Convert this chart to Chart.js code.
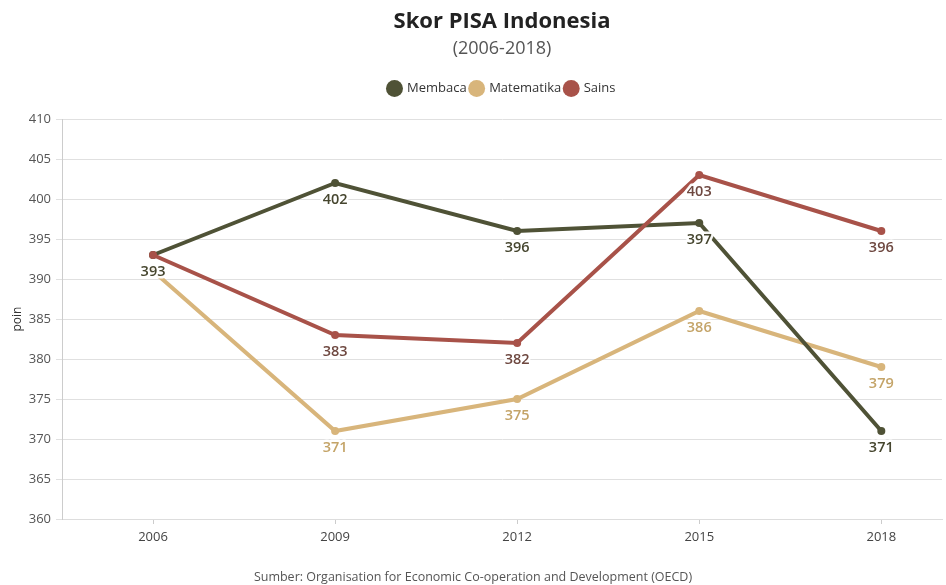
<!DOCTYPE html>
<html>
<head>
<meta charset="utf-8">
<script src="https://cdn.jsdelivr.net/npm/chart.js@4/dist/chart.umd.min.js"></script>
<style>
html,body{margin:0;padding:0;background:#fff;overflow:hidden;}
#wrap{width:946px;height:585px;position:relative;}
</style>
</head>
<body>
<div id="wrap"><canvas id="c" width="946" height="585"></canvas></div>
<script>
const years = [2006, 2009, 2012, 2015, 2018];
const membaca = [393, 402, 396, 397, 371];
const matematika = [391, 371, 375, 386, 379];
const sains = [393, 383, 382, 403, 396];
const yTicks = [360, 365, 370, 375, 380, 385, 390, 395, 400, 405, 410];
const titleText = 'Skor PISA Indonesia';
const subtitleText = '(2006-2018)';
const sourceText = 'Sumber: Organisation for Economic Co-operation and Development (OECD)';
const yTitle = 'poin';

const FONT = "'Open Sans', 'Noto Sans', sans-serif";
Chart.defaults.font.family = FONT;

const toPts = arr => arr.map((v, i) => ({x: years[i], y: v}));

const legendGap = {
  id: 'legendGap',
  beforeInit(chart) {
    const lg = chart.legend;
    if (!lg) return;
    const orig = lg.fit;
    lg.fit = function () { orig.call(this); this.height += 14; };
  }
};

const labelPlugin = {
  id: 'valLabels',
  afterDatasetsDraw(chart) {
    const ctx = chart.ctx;
    const boxes = [];
    ctx.save();
    ctx.font = "600 14.5px " + FONT;
    ctx.textAlign = 'center';
    ctx.textBaseline = 'middle';
    chart.data.datasets.forEach((ds, di) => {
      const meta = chart.getDatasetMeta(di);
      meta.data.forEach((pt, i) => {
        const txt = String(ds.data[i].y);
        const x = pt.x, y = pt.y + 17;
        const w = ctx.measureText(txt).width, h = 18;
        const b = {l: x - w/2, r: x + w/2, t: y - h/2, b: y + h/2};
        if (boxes.some(o => !(b.r < o.l || b.l > o.r || b.b < o.t || b.t > o.b))) return;
        boxes.push(b);
        ctx.lineJoin = 'round';
        ctx.strokeStyle = 'rgba(255,255,255,0.95)';
        ctx.lineWidth = 5;
        ctx.strokeText(txt, x, y);
        ctx.fillStyle = ds.labelColor;
        ctx.fillText(txt, x, y);
      });
    });
    ctx.restore();
  }
};

const sourcePlugin = {
  id: 'sourceText',
  afterDraw(chart) {
    const ctx = chart.ctx;
    ctx.save();
    ctx.font = "12.5px " + FONT;
    ctx.fillStyle = '#555';
    ctx.textAlign = 'center';
    ctx.textBaseline = 'middle';
    ctx.fillText(sourceText, chart.width / 2, 577);
    ctx.restore();
  }
};

new Chart(document.getElementById('c'), {
  type: 'line',
  data: {
    datasets: [
      {label: 'Membaca', data: toPts(membaca), borderColor: '#4f5236', backgroundColor: '#4f5236', pointBackgroundColor: '#4f5236', labelColor: '#46462f', order: 1},
      {label: 'Matematika', data: toPts(matematika), borderColor: '#d8b57b', backgroundColor: '#d8b57b', pointBackgroundColor: '#d8b57b', labelColor: '#c4a468', order: 2},
      {label: 'Sains', data: toPts(sains), borderColor: '#a85249', backgroundColor: '#a85249', pointBackgroundColor: '#a85249', labelColor: '#6e4840', order: 0}
    ]
  },
  options: {
    responsive: false,
    animation: false,
    devicePixelRatio: 1,
    elements: {
      line: {borderWidth: 4, tension: 0},
      point: {radius: 4, borderWidth: 0, hoverRadius: 4}
    },
    layout: {padding: {top: 0, bottom: 36, left: 10, right: 0}},
    plugins: {
      title: {display: true, fullSize: false, text: titleText, color: '#222', font: {size: 22, weight: 'bold', family: FONT, lineHeight: 1.2}, padding: {top: 9, bottom: 0}},
      subtitle: {display: true, fullSize: false, text: subtitleText, color: '#555', font: {size: 18, family: FONT, lineHeight: 1.2}, padding: {top: 3, bottom: 18}},
      legend: {
        display: true,
        fullSize: false,
        labels: {
          usePointStyle: true, pointStyle: 'circle', boxWidth: 12, boxHeight: 12,
          padding: 4, color: '#333', font: {size: 13, family: FONT},
          sort: (a, b) => a.datasetIndex - b.datasetIndex
        }
      },
      tooltip: {enabled: false}
    },
    scales: {
      x: {
        type: 'linear',
        min: 2004.5,
        max: 2019,
        afterBuildTicks: s => { s.ticks = years.map(v => ({value: v})); },
        afterFit: s => { s.height = 30; },
        ticks: {color: '#444', font: {size: 13, family: FONT}, padding: 5, callback: v => String(v), autoSkip: false, maxRotation: 0},
        grid: {drawOnChartArea: false, drawTicks: true, tickLength: 5, color: '#ccc'},
        border: {display: true, color: '#ddd'}
      },
      y: {
        min: 360,
        max: 410,
        afterBuildTicks: s => { s.ticks = yTicks.map(v => ({value: v})); },
        afterFit: s => { s.width = 52; },
        ticks: {color: '#555', font: {size: 13, family: FONT}, padding: 5},
        grid: {color: '#e0e0e0', tickLength: 6, lineWidth: 1},
        border: {display: true, color: '#ccc'},
        title: {display: true, text: yTitle, color: '#333', font: {size: 12, family: FONT}, padding: {top: 0, bottom: 0}}
      }
    }
  },
  plugins: [legendGap, labelPlugin, sourcePlugin]
});
</script>
</body>
</html>
